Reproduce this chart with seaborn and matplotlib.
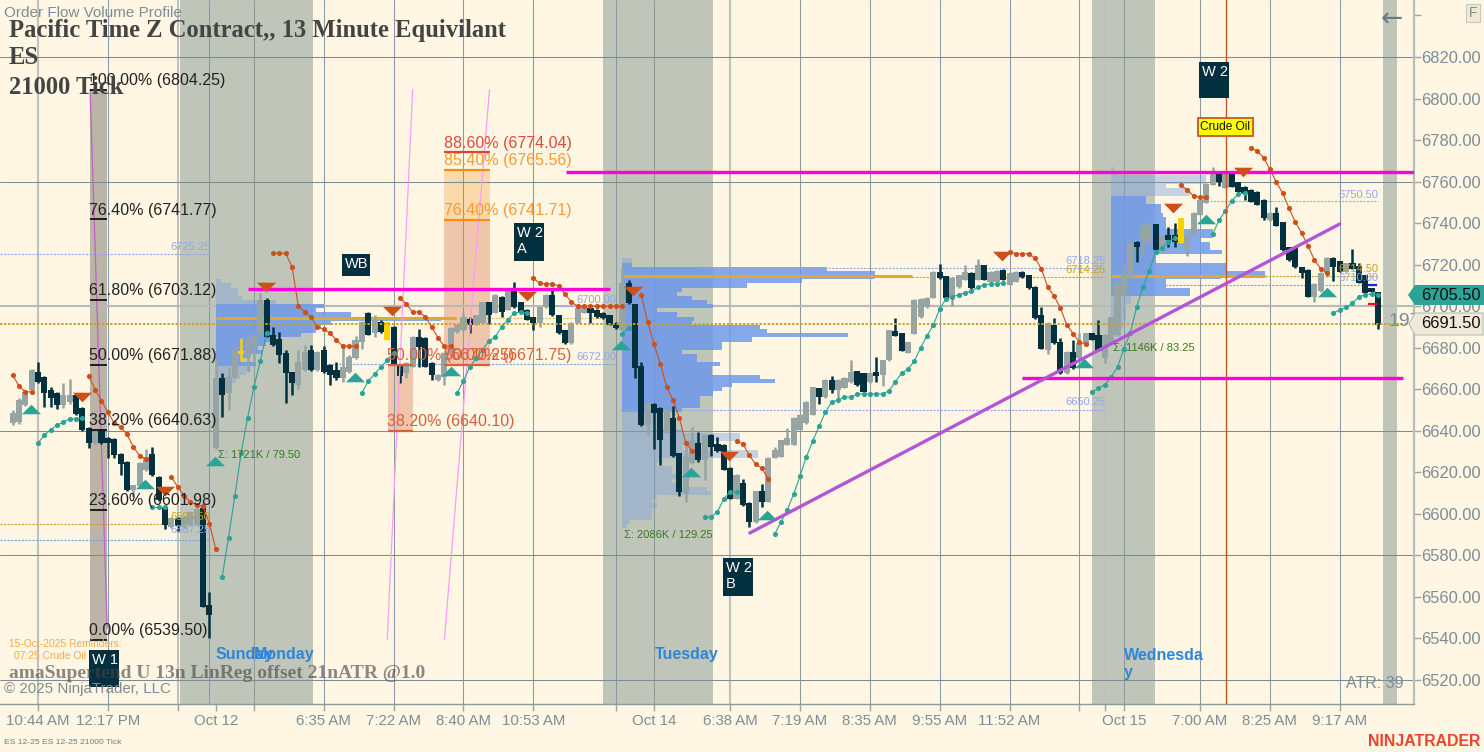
import numpy as np
import pandas as pd
import seaborn as sns
import matplotlib
matplotlib.use("Agg")
import matplotlib.pyplot as plt
from matplotlib.path import Path
from matplotlib.patches import Polygon, Rectangle

# Candles, one row per 10 bars. G up, D down, Y flagged bar
bar_kind = ("GGGGDDDDGG" "DDDGDDDDDG" "GGDDDGDGGG" "DDGDGGYGGG" "DDDDDGGDGD" "DDGGGGDGDY"
            "DDGGDDDGGG" "GGDGGDGDGD" "DDDGGDDDGG" "GDDDDDGDDD" "GDDGDDGGDG" "DDDDGDDGDG"
            "GGGGGGGDGD" "GGGDDGDGGD" "DGGGGGDDGG" "GDGDGGDGGD" "DDDGDDGDGG" "DDGGGGGDGG"
            "DGDDYGGGGG" "DGDDDDDDGD" "DDDDDGGGDD" "GDDDDD")
body_top = [
    6648.5, 6654.75, 6658.75, 6669.25, 6668.25, 6666, 6659.75, 6658.25, 6657.25, 6657.25,
    6657.25, 6651, 6641.5, 6639, 6640.5, 6636.5, 6636, 6628.75, 6625, 6613.75,
    6624.5, 6627.5, 6628.75, 6617.75, 6603.25, 6598, 6598, 6598.5, 6601, 6602.5,
    6602.75, 6556.25, 6665.5, 6665.5, 6666, 6678.75, 6678.5, 6683.75, 6686.25, 6703,
    6703, 6686.25, 6684.25, 6677.5, 6668.25, 6673.25, 6678, 6678.75, 6678, 6678.75,
    6671.75, 6669.25, 6670.75, 6675.5, 6683.75, 6692.5, 6696.75, 6693.5, 6692.5, 6692.5,
    6690, 6671.75, 6672.75, 6685.25, 6685.25, 6684.75, 6672.75, 6667, 6677.5, 6689.5,
    6691, 6694.75, 6693.75, 6695.75, 6702, 6702, 6705.5, 6704.5, 6707.75, 6708.25,
    6702, 6698.25, 6694.75, 6699.5, 6705.5, 6705.5, 6695.75, 6688.5, 6692, 6699,
    6699.5, 6699, 6698.25, 6696.75, 6695.75, 6692, 6711.25, 6711.25, 6701, 6671.25,
    6653.5, 6653, 6651, 6650, 6646.25, 6629.25, 6627.5, 6635.5, 6634.25, 6638,
    6638, 6633.75, 6633.25, 6622.25, 6618.75, 6614.75, 6605.25, 6611, 6611, 6627,
    6630.75, 6635.5, 6636.5, 6646.25, 6647.75, 6654, 6661, 6660.5, 6664.5, 6664.5,
    6664.5, 6665.5, 6668.25, 6668.75, 6667.75, 6667.75, 6668.25, 6674, 6688.5, 6688,
    6687, 6682.75, 6703, 6703.5, 6704, 6716.5, 6716.5, 6714.5, 6713.5, 6715,
    6716.5, 6716, 6719.75, 6719.75, 6716.5, 6717, 6717.5, 6716, 6716.5, 6716.5,
    6715, 6709.25, 6695.75, 6692, 6691, 6682.75, 6678, 6678, 6682.25, 6687,
    6687, 6686.25, 6686.25, 6694.75, 6711.75, 6715, 6730.5, 6731, 6737.75, 6740,
    6739.5, 6734.25, 6734.25, 6734.25, 6742.5, 6734.25, 6745, 6751.25, 6759, 6764.25,
    6764.25, 6764.25, 6763.75, 6759.75, 6757.5, 6756, 6755, 6751.25, 6745, 6745,
    6740.5, 6728.5, 6728.5, 6718.75, 6717.5, 6710.75, 6716, 6723.25, 6723.25, 6721.75,
    6720.75, 6720.75, 6719.5, 6715, 6708.75, 6706.75]
body_bot = [
    6643.75, 6644.25, 6652.5, 6659.75, 6663.5, 6658.25, 6655.75, 6652.5, 6652.5, 6653.75,
    6648, 6640.5, 6634.25, 6634.25, 6634.25, 6634.25, 6628.5, 6624, 6611.5, 6611.5,
    6613.5, 6621, 6618.75, 6606.75, 6594.75, 6593.75, 6594.25, 6593.75, 6594.75, 6594.75,
    6555.25, 6551.25, 6631.75, 6657.25, 6658.25, 6666, 6677, 6675.5, 6681.25, 6687,
    6685.25, 6681.25, 6676.5, 6667.75, 6663, 6662, 6669.25, 6669.25, 6669.25, 6668.25,
    6667, 6665.5, 6665.5, 6668.25, 6675, 6682.75, 6686.25, 6687, 6687.5, 6683.75,
    6671.75, 6666.5, 6667.75, 6670.75, 6680.5, 6670.75, 6667, 6664.5, 6666, 6677.5,
    6687.5, 6688.5, 6691, 6691, 6692, 6695.75, 6696.75, 6697.25, 6698.25, 6699.5,
    6697.25, 6693.5, 6692, 6692, 6699.5, 6695.75, 6687, 6682.25, 6682.25, 6692,
    6696.75, 6696.75, 6694.75, 6694.25, 6691, 6689.5, 6688.5, 6701.5, 6670.25, 6642.75,
    6642.75, 6648.5, 6635.5, 6639, 6627.75, 6610.5, 6610, 6624.5, 6626, 6626,
    6632.25, 6630.25, 6621.25, 6607.25, 6607.25, 6604.25, 6596, 6596, 6605.75, 6605.75,
    6627, 6627.5, 6633.25, 6633.25, 6640.5, 6643.75, 6647.75, 6656.25, 6656.25, 6659.75,
    6659.75, 6660.75, 6663.5, 6662, 6658.75, 6663.5, 6666.5, 6667, 6674, 6685.75,
    6678.5, 6677.5, 6686.75, 6694.75, 6699.5, 6704, 6713.5, 6704, 6704.5, 6709.25,
    6712.75, 6708.75, 6712.75, 6712.75, 6711.75, 6711.75, 6712.75, 6710.25, 6711.75, 6714,
    6708.75, 6694.25, 6679.5, 6679, 6682.25, 6667.75, 6667.75, 6670.25, 6675, 6682.25,
    6683.75, 6678.5, 6675, 6682.25, 6686.25, 6705.5, 6714, 6728.5, 6732, 6730.5,
    6727, 6728.5, 6732, 6731, 6730.5, 6727, 6734.25, 6744, 6749.75, 6758.5,
    6759.75, 6757, 6757.5, 6755, 6754.5, 6750.25, 6748.75, 6742.5, 6741.5, 6738.75,
    6727, 6722.25, 6718.75, 6716, 6704.5, 6704.5, 6707.25, 6716, 6718.75, 6716.5,
    6716.5, 6718, 6711.25, 6706.25, 6706.75, 6691]
bar_high = [
    6650, 6655.75, 6659.5, 6670, 6673.25, 6666.5, 6661.25, 6658.75, 6663, 6665,
    6657.75, 6651.5, 6641.75, 6640, 6641, 6637, 6636.5, 6629.25, 6625.5, 6614,
    6625, 6631.25, 6632.25, 6618, 6603.75, 6598.5, 6598.5, 6599, 6601.5, 6603,
    6603.25, 6562.5, 6675.5, 6667.75, 6670.75, 6680.75, 6684.75, 6686.25, 6686.75, 6706.5,
    6704, 6690, 6687.5, 6678.75, 6668.5, 6678.75, 6681.25, 6681.25, 6678.5, 6680.75,
    6672, 6673.25, 6680.25, 6676.5, 6685.75, 6693, 6697.25, 6695.75, 6693.5, 6692.5,
    6690.25, 6672, 6673, 6685.5, 6689, 6685, 6673, 6667.25, 6677.75, 6689.75,
    6691.25, 6696.75, 6694.75, 6696, 6702.25, 6702.25, 6705.75, 6704.75, 6708, 6711.75,
    6702.25, 6698.5, 6695, 6699.75, 6705.75, 6707.75, 6696, 6688.75, 6692.25, 6699.25,
    6699.75, 6699.25, 6698.5, 6697, 6696, 6692.25, 6719, 6712.5, 6701.25, 6673.25,
    6653.75, 6653.25, 6651.25, 6650.25, 6652, 6629.5, 6635.5, 6641.75, 6639.5, 6638.25,
    6638.25, 6637, 6633.5, 6622.5, 6619, 6616.75, 6605.5, 6611.25, 6614.5, 6627.25,
    6632.25, 6635.75, 6641.25, 6646.5, 6648, 6654.25, 6661.25, 6660.75, 6664.75, 6666.5,
    6664.75, 6665.75, 6674, 6669, 6668, 6668, 6675.5, 6674.25, 6688.75, 6694.25,
    6687.25, 6683, 6703.25, 6703.75, 6704.25, 6716.75, 6720.25, 6714.75, 6713.75, 6715.25,
    6719.75, 6716.25, 6722.75, 6720, 6716.75, 6717.25, 6717.75, 6716.25, 6716.75, 6716.75,
    6715.25, 6709.5, 6699.5, 6692.25, 6694.25, 6684.75, 6678.25, 6683.75, 6687, 6687.25,
    6687.25, 6693.5, 6686.5, 6695, 6712, 6719.75, 6730.75, 6731.25, 6740.5, 6740.25,
    6739.75, 6734.5, 6738, 6740, 6742.5, 6734.5, 6745.25, 6751.5, 6759.25, 6767,
    6764.5, 6764.5, 6764, 6760, 6757.75, 6756.25, 6755.25, 6751.5, 6745.25, 6747.75,
    6740.75, 6728.75, 6728.75, 6719, 6717.75, 6711, 6716.25, 6723.5, 6723.5, 6722,
    6721, 6727.5, 6720.75, 6715.25, 6709, 6707]
bar_low = [
    6642.75, 6643.5, 6651.75, 6659, 6663.25, 6651.5, 6651.5, 6650.5, 6651, 6653,
    6647.5, 6640, 6631.75, 6633.25, 6633.75, 6627, 6627, 6618.75, 6611.25, 6608,
    6613, 6620.5, 6618.25, 6606.25, 6592.75, 6593.25, 6591.75, 6593.25, 6594.25, 6594.25,
    6555, 6540, 6631.25, 6646.75, 6650, 6665.5, 6673.5, 6668.25, 6672.75, 6686.5,
    6685, 6681, 6672.75, 6653.5, 6657.25, 6660, 6669, 6669, 6669, 6668,
    6662, 6664.5, 6663.5, 6667.75, 6674.5, 6679.5, 6686, 6685.25, 6687.25, 6683.75,
    6671.5, 6663, 6665.5, 6670.5, 6670.75, 6670.5, 6664.5, 6664, 6662, 6677.25,
    6687.25, 6688.25, 6687, 6690.75, 6691.75, 6691.5, 6696.5, 6694.75, 6698, 6699.25,
    6697, 6693.25, 6688.5, 6690, 6699.25, 6695.5, 6686.75, 6682, 6682, 6691.75,
    6696.5, 6692, 6694.5, 6694, 6690.75, 6689.25, 6688.25, 6701.25, 6665.5, 6642.5,
    6638, 6631.25, 6623.5, 6638.75, 6627.5, 6608.5, 6605.75, 6624.25, 6625, 6616.25,
    6627.75, 6630, 6621, 6607, 6607, 6604, 6593.75, 6595.75, 6603.25, 6605.5,
    6626.75, 6627.25, 6633, 6633, 6640.25, 6643.5, 6647.5, 6653, 6656, 6658.25,
    6655.25, 6660.5, 6663.25, 6661.75, 6658.5, 6663.25, 6663.5, 6661.5, 6673.75, 6685.5,
    6678.25, 6677.25, 6686.5, 6694.5, 6699.25, 6703.75, 6713.25, 6703.75, 6700, 6709,
    6712.5, 6708.5, 6712.5, 6712.5, 6711.5, 6711.5, 6712.5, 6710, 6711.5, 6713.75,
    6708.5, 6694, 6679.25, 6677, 6682, 6667.5, 6667.5, 6670, 6674.75, 6682,
    6683.5, 6678.25, 6672.75, 6682, 6686, 6705.25, 6713.75, 6721.25, 6724.75, 6730.25,
    6726.75, 6726, 6728.5, 6728.5, 6730.5, 6724, 6734, 6743.75, 6749.5, 6758.25,
    6758, 6756.75, 6757.25, 6754.75, 6751, 6750, 6748.5, 6741.5, 6741.25, 6738.5,
    6726.75, 6722, 6718.5, 6713.5, 6704.25, 6702, 6707, 6714, 6712.25, 6716.25,
    6716.25, 6717.75, 6711, 6706, 6706.5, 6689]

# Trailing stop dots: (first bar, prices)
red_stops = [
    (0, [6667, 6661.5, 6658.75, 6658.75]),
    (12, [6666.5, 6659.75, 6654.5, 6649, 6643.75, 6641.75, 6638.5, 6632.25, 6628, 6626.5]),
    (25, [6617.75, 6613, 6608.75, 6605.75, 6604.25, 6603.75, 6595.25, 6583]),
    (41, [6725.5, 6725.5, 6725.5, 6719, 6700, 6697.25, 6694.75, 6690, 6689, 6687, 6683.75, 6680.75, 6680.75, 6680.75]),
    (61, [6704, 6701, 6697.25, 6697.25, 6694.75, 6690, 6684.75, 6680.75, 6680.75]),
    (82, [6713.5, 6711, 6710.75, 6710.75, 6709.75, 6705.75, 6702, 6700, 6700, 6700, 6700, 6700, 6700, 6700, 6700]),
    (99, [6705.5, 6692.5, 6681.75, 6672.25, 6661.25, 6654.75, 6646.25, 6634.25, 6630.25]),
    (114, [6635, 6633.75, 6628.25, 6624, 6622, 6616.75]),
    (157, [6726.25, 6725.25, 6725.25, 6725.25, 6723.25, 6718, 6709.25, 6705, 6699.25, 6691, 6686.75, 6682.75, 6681.75]),
    (184, [6758.25, 6756, 6753, 6752.5, 6752.5]),
    (195, [6776.25, 6774.75, 6771.5, 6766, 6759.75, 6754.5, 6747.25, 6740.5, 6735.25, 6729, 6722.25, 6718, 6716]),
]
green_stops = [
    (4, [6634, 6638, 6640.5, 6642.75, 6644.25, 6645.75, 6645.75, 6646.25]),
    (22, [6603.25, 6603.25, 6603.25]),
    (33, [6569.5, 6588.5, 6608.75, 6629.5, 6646.25, 6661, 6673.5, 6687]),
    (55, [6658.25, 6664, 6667.25, 6670.75, 6674, 6677.5]),
    (70, [6658.25, 6664, 6670.75, 6675, 6679, 6683.25, 6685.25, 6690, 6693.5, 6696.75, 6697.25, 6696.75]),
    (96, [6686.5, 6689.5]),
    (109, [6598.5, 6598.5, 6601, 6607.25, 6610.5, 6610.5]),
    (120, [6590.25, 6596, 6602, 6609.5, 6618.25, 6627.5, 6635, 6642.25, 6649, 6654, 6654.75, 6656.25, 6656.25,
           6657.75, 6657.75, 6657.75, 6657.75, 6657.75, 6659.25, 6663.5, 6667.75, 6669.75, 6673.5, 6680, 6685.75,
           6691, 6698.75, 6703.5, 6704.5, 6705.5, 6706.5, 6707.25, 6709.25, 6710.25, 6710.75, 6710.75, 6711.25]),
    (170, [6658.75, 6660.5, 6662, 6666, 6670.75, 6679.5, 6687, 6699.5, 6709.25, 6717, 6726.25, 6728, 6731, 6732.75]),
    (189, [6734.75, 6741.5, 6746, 6750.75, 6754, 6754.5]),
    (208, [6696.75, 6698.25, 6699.5, 6701.5, 6704.5, 6705.5, 6706, 6705.5]),
]
sell_slot = [10.9, 24, 39.9, 59.7, 81, 97.7, 112.8, 155.8, 182.7, 193.8]
sell_price = [6656.3, 6611, 6709.25, 6697.7, 6705, 6707.3, 6627.9, 6724.2, 6747.3, 6764.6]
buy_slot = [2.9, 20.85, 31.9, 53.9, 69, 95.8, 106.8, 118.8, 168.7, 188, 207]
buy_price = [6650.5, 6614.4, 6625.5, 6666, 6668.8, 6681.3, 6620.2, 6599.5, 6672.7, 6742, 6706.9]

# Volume profiles, widths in screen pixels
prof1_levels = list(range(6712, 6658, -2))
prof1_vol = [5, 15, 22, 22, 26, 60, 108, 100, 135, 225, 115, 105, 100, 85, 55, 50, 42, 46, 32, 25, 40, 35, 30, 24, 20, 12, 8]
prof2_levels = list(range(6722, 6592, -2))
prof2_vol = [10, 10, 205, 253, 253, 180, 125, 60, 55, 70, 85, 91, 35, 55, 72, 70, 138, 145, 226, 130, 100, 100, 60,
             75, 75, 98, 90, 90, 138, 153, 110, 100, 91, 78, 78, 78, 60, 40, 40, 40, 40, 60, 118, 118, 90, 60, 136,
             136, 40, 35, 50, 50, 55, 50, 55, 85, 89, 35, 30, 35, 30, 30, 30, 8, 5]
prof3_levels = list(range(6766, 6684, -2))
prof3_vol = [3, 5, 95, 95, 55, 79, 79, 35, 35, 50, 50, 52, 55, 55, 55, 102, 102, 89, 99, 99, 111, 45, 45, 115, 115,
             154, 110, 55, 55, 79, 79, 20, 20, 15, 15, 15, 15, 12, 12, 10, 10]
prof_start = [32, 96, 173]
value_high = [6701.5, 6720, 6752]
value_low = [6672, 6650, 6705]
poc_price = [6694.3, 6714.7, 6714.75]
poc_from = [32, 96, 173]
poc_to = [69.8, 141.6, 197.2]

# Shaded sessions and grid
session_from = [26.4, 93, 170, 215.8]
session_to = [47.3, 110.3, 179.9, 218]
h_grid = [6820, 6760, 6640, 6580, 6520]
v_dark = [15, 31, 38, 49, 60, 71, 82, 95, 101, 124, 135, 146, 157, 168, 175, 187, 198, 209]
v_light = [4, 26, 113, 172]
tick_slots = [4, 15, 26, 32, 38, 49, 60, 71, 82, 95, 101, 113, 124, 135, 146, 157, 168, 172, 175, 187, 198, 209]
tick_text = ["10:44 AM", "12:17 PM", "", "Oct 12", "", "6:35 AM", "7:22 AM", "8:40 AM", "10:53 AM", "", "Oct 14",
             "6:38 AM", "7:19 AM", "8:35 AM", "9:55 AM", "11:52 AM", "", "", "Oct 15", "7:00 AM", "8:25 AM", "9:17 AM"]

# Fibonacci sets
fib_black_pct = ["100.00%", "76.40%", "61.80%", "50.00%", "38.20%", "23.60%", "0.00%"]
fib_black_val = [6804.25, 6741.77, 6703.12, 6671.88, 6640.63, 6601.98, 6539.50]

# Key levels: price, first slot, last slot, colour
thick_levels = [(6708.4, 37, 94), (6764.6, 87.1, 220.7), (6665.3, 159, 219)]
dash_levels = [
    (6725.25, -2, 31.1, "#8fa8e8"), (6595, -2, 24.8, "#c9a227"), (6587.25, -2, 31.1, "#7f9ee6"),
    (6700, 85, 95.2, "#8fa8e8"), (6672, 49.7, 95.2, "#7f9ee6"), (6694.25, 69.8, 95.2, "#e3bf6a"),
    (6718.25, 108.3, 172, "#8fa8e8"), (6714.25, 141.6, 172, "#c9a227"), (6650.25, 95.7, 172, "#8fa8e8"),
    (6750.5, 188.6, 215, "#8fa8e8"), (6710, 181.5, 215, "#7f9ee6"), (6714.5, 197.2, 215, "#c9a227"),
]
last_price = 6691.5
trend_slot = [116.1, 209]
trend_price = [6590.8, 6739.6]
pink_lines = [([59, 63], [6539.5, 6804.25]), ([68, 75.1], [6539.5, 6804.25])]
fib_pink = ([12.2, 14.9], [6804.25, 6545])

BG = "#fff6e3"
DARK = "#03303f"
GRAY_TXT = "#7d8d96"
FW, FH = 1484, 752
BAR_PX = 6.35

sns.set_theme(style="white", rc={"axes.facecolor": BG, "figure.facecolor": BG})
plt.rcParams["font.family"] = ["Liberation Sans", "DejaVu Sans"]

fig = plt.figure(figsize=(FW / 100, FH / 100), dpi=100)
ax = fig.add_axes([0, (FH - 704) / FH, 1414 / FW, 704 / FH])
ax.set_xlim(-1.984, 220.69)
ax.set_ylim(6508.45, 6847.45)


# text placed by screen pixel, for the overlay captions
def px_text(x, y, s, **kw):
    kw.setdefault("va", "center")
    kw.setdefault("zorder", 8)
    return fig.text(x / FW, 1 - y / FH, s, **kw)


def px_box(x0, y0, x1, y1, face, edge="none", lw=0, z=7):
    fig.add_artist(Rectangle((x0 / FW, 1 - y1 / FH), (x1 - x0) / FW, (y1 - y0) / FH, transform=fig.transFigure,
                             facecolor=face, edgecolor=edge, linewidth=lw, zorder=z))


def px_poly(points, face, edge="none", lw=0, z=7):
    fig.add_artist(Polygon([(x / FW, 1 - y / FH) for x, y in points], closed=True, transform=fig.transFigure,
                           facecolor=face, edgecolor=edge, linewidth=lw, zorder=z))


# Background bands and grid
for a, b in zip(session_from, session_to):
    ax.axvspan(a, b, color="#bfc5b9", lw=0, zorder=0.5)
ax.fill_between([12.2, 14.9], 6539.5, 6804.25, color="#bcb4a6", lw=0, zorder=0.6)
ax.fill_between([68, 75.2], 6741.71, 6765.56, color="#fbd9a8", lw=0, zorder=0.6)
ax.fill_between([68, 75.2], 6671.75, 6741.71, color="#efc6ab", lw=0, zorder=0.6)
ax.fill_between([59.1, 63], 6640.10, 6671.75, color="#efc6ab", lw=0, zorder=0.6)

for s in v_dark:
    ax.axvline(s, color="#8b9aa0", lw=0.75, zorder=1)
for s in v_light:
    ax.axvline(s, color="#bcc3bd", lw=1.5, zorder=1)
for p in h_grid:
    ax.axhline(p, color="#7d8d95", lw=0.75, zorder=1)
ax.axhline(6700, color="#b5bcb6", lw=1.5, zorder=1)

# Volume profiles
for start, levels, vols, hi, lo in zip(prof_start, [prof1_levels, prof2_levels, prof3_levels],
                                       [prof1_vol, prof2_vol, prof3_vol], value_high, value_low):
    prof = pd.DataFrame({"price": levels, "vol": vols})
    inside = (prof["price"] <= hi) & (prof["price"] >= lo)
    ax.barh(prof["price"][inside], prof["vol"][inside] / BAR_PX, left=start, height=2.0,
            color="#6a97ec", alpha=0.82, lw=0, zorder=1.5)
    ax.barh(prof["price"][~inside], prof["vol"][~inside] / BAR_PX, left=start, height=2.0,
            color="#7a9fe0", alpha=0.42, lw=0, zorder=1.5)
for p, a, b in zip(poc_price, poc_from, poc_to):
    ax.plot([a, b], [p, p], color="#e0a82e", lw=2.2, solid_capstyle="butt", zorder=1.8)

# Dashed key levels
for p, a, b, c in dash_levels:
    ax.plot([a, b], [p, p], color=c, lw=0.8, ls=(0, (2, 1.2)), zorder=1.7)
ax.axhline(last_price, color="#c9a227", lw=1.4, ls=(0, (1.2, 0.9)), zorder=4)

# Thin pink lines
for xs, ys in pink_lines:
    sns.lineplot(x=xs, y=ys, ax=ax, color="#ff9cf2", lw=0.9, errorbar=None, legend=False, zorder=5)
sns.lineplot(x=fib_pink[0], y=fib_pink[1], ax=ax, color="#c060c8", lw=0.9, errorbar=None, legend=False, zorder=2)

# Candles
slots = np.arange(len(bar_kind))
bar_colors = [{"G": "#97a4a4", "D": DARK, "Y": "#ffd000"}[k] for k in bar_kind]
ax.vlines(slots, bar_low, bar_high, colors=bar_colors, lw=1.8, zorder=3)
ax.bar(slots, np.array(body_top) - np.array(body_bot), bottom=body_bot, width=0.96, color=bar_colors, lw=0, zorder=3)

# Stop dots
for start, prices in red_stops:
    sns.lineplot(x=list(range(start, start + len(prices))), y=prices, ax=ax, color="#cf4f1b", lw=0.8, marker="o",
                 markersize=3.7, markeredgewidth=0, errorbar=None, legend=False, zorder=5)
for start, prices in green_stops:
    sns.lineplot(x=list(range(start, start + len(prices))), y=prices, ax=ax, color="#2ba397", lw=0.8, marker="o",
                 markersize=3.7, markeredgewidth=0, errorbar=None, legend=False, zorder=5)

# Signal triangles
down_tri = Path([(-1, 0.5), (1, 0.5), (0, -0.5), (-1, 0.5)])
up_tri = Path([(-1, -0.5), (1, -0.5), (0, 0.5), (-1, -0.5)])
sns.scatterplot(x=sell_slot, y=sell_price, ax=ax, marker=down_tri, s=190, color="#cf4f1b", linewidth=0, legend=False, zorder=6)
sns.scatterplot(x=buy_slot, y=buy_price, ax=ax, marker=up_tri, s=190, color="#2ba397", linewidth=0, legend=False, zorder=6)

# Thick manual lines
for p, a, b in thick_levels:
    ax.plot([a, b], [p, p], color="#ff00dc", lw=2.4, solid_capstyle="butt", zorder=5.5)
sns.lineplot(x=trend_slot, y=trend_price, ax=ax, color="#b455d8", lw=2.4, errorbar=None, legend=False, zorder=5.5)
ax.axvline(191.1, color="#c8552a", lw=1, zorder=5)
ax.plot([213.4, 214.9], [6710, 6710], color="#1030e0", lw=1.6, solid_capstyle="butt", zorder=6)
ax.plot([213.4, 214.9], [6701, 6701], color="#f01020", lw=1.6, solid_capstyle="butt", zorder=6)

# Fibonacci levels and labels
for pct, val in zip(fib_black_pct, fib_black_val):
    ax.plot([12.2, 14.9], [val, val], color="#111111", lw=1.3, solid_capstyle="butt", zorder=6)
    ax.text(12.1, val + 0.8, f"{pct} ({val:.2f})", color="#222222", fontsize=11.5, va="bottom", ha="left", zorder=7)
red_fib = "#d9603a"
orange_fib = "#ff9a2e"
for val, a, b, c in [(6774.04, 68, 75.2, "#dd4433"), (6765.56, 68, 75.2, "#ff8c10"), (6741.71, 68, 75.2, "#ff8c10"),
                     (6671.75, 68, 75.2, red_fib), (6671.75, 59.1, 63, red_fib), (6640.10, 59.1, 63, red_fib)]:
    ax.plot([a, b], [val, val], color=c, lw=1.6, solid_capstyle="butt", zorder=6)
ax.text(68, 6774.84, "88.60% (6774.04)", color="#e04a3a", fontsize=11.5, va="bottom", zorder=7)
ax.text(68, 6766.36, "85.40% (6765.56)", color=orange_fib, fontsize=11.5, va="bottom", zorder=7)
ax.text(68, 6742.5, "76.40% (6741.71)", color=orange_fib, fontsize=11.5, va="bottom", zorder=7)
ax.text(59, 6672.55, "50.00% (6670.25)", color=red_fib, fontsize=11.5, va="bottom", zorder=7)
ax.text(68, 6672.55, "50.00% (6671.75)", color=red_fib, fontsize=11.5, va="bottom", zorder=7)
ax.text(59, 6640.9, "38.20% (6640.10)", color=red_fib, fontsize=11.5, va="bottom", zorder=7)

# Axes, ticks
ax.yaxis.tick_right()
ax.set_yticks(np.arange(6520, 6841, 20))
ax.set_yticklabels([f"{p:.2f}" for p in np.arange(6520, 6821, 20)] + [""], color=GRAY_TXT, fontsize=11.9)
ax.set_xticks(tick_slots)
ax.set_xticklabels(tick_text, color=GRAY_TXT, fontsize=10.8)
ax.tick_params(axis="y", length=5, width=1, color="#9aa7a7", pad=0, right=True, left=False)
ax.tick_params(axis="x", length=5, width=1, color="#9aa7a7", pad=2, bottom=True)
for side in ["top", "left"]:
    ax.spines[side].set_visible(False)
ax.spines["right"].set_color("#b7bfba")
ax.spines["right"].set_linewidth(1.6)
ax.spines["bottom"].set_color("#8b9a9a")
ax.spines["bottom"].set_linewidth(1)

# Overlay captions
px_text(4, 13, "Order Flow Volume Profile", color=GRAY_TXT, fontsize=11)
serif = dict(family=["Liberation Serif", "DejaVu Serif"], fontweight="bold", color="#444444")
px_text(9, 31, "Pacific Time Z Contract,, 13 Minute Equivilant", fontsize=17.7, **serif)
px_text(9, 58, "ES", fontsize=17.7, **serif)
px_text(9, 87, "21000 Tick", fontsize=17.7, **serif)
px_text(9, 673, "amaSupertend U 13n LinReg offset 21nATR @1.0", fontsize=14, alpha=0.62, family=serif["family"],
        fontweight="bold", color="#444444")
px_text(4, 689, "\u00a9 2025 NinjaTrader, LLC", color="#7d8d96", fontsize=10.9)
px_text(9, 644, "15-Oct-2025 Reminders:", color="#ffa940", fontsize=7.4)
px_text(14, 656, "07:25 Crude Oil", color="#ffa940", fontsize=7.4)

day_font = dict(color="#2f86d8", fontsize=11.5, fontweight="bold")
px_text(216, 655, "Sunday", **day_font)
px_text(254, 655, "Monday", **day_font)
px_text(655, 655, "Tuesday", **day_font)
px_text(1124, 655, "Wednesda", **day_font)
px_text(1124, 673, "y", **day_font)

for x, y, s in [(218, 455, "\u03a3: 1721K / 79.50"), (624, 535, "\u03a3: 2086K / 129.25"), (1113, 348, "\u03a3: 1146K / 83.25")]:
    px_text(x, y, s, color="#3a7a20", fontsize=8)
for x, y, s, c in [(170, 247, "6725.25", "#8fa8e8"), (170, 517, "6595.50", "#c9a227"), (170, 530, "6587.25", "#8fa8e8"),
                   (576, 300, "6700.00", "#8fa8e8"), (576, 357, "6672.00", "#8fa8e8"),
                   (1065, 261, "6718.25", "#8fa8e8"), (1065, 270, "6714.25", "#c9a227"),
                   (1065, 402, "6650.25", "#8fa8e8"), (1338, 195, "6750.50", "#8fa8e8"),
                   (1338, 269, "6714.50", "#c9a227"), (1338, 278, "6710.00", "#8fa8e8")]:
    px_text(x, y, s, color=c, fontsize=8)

# Note boxes
for x0, y0, x1, y1, s in [(89, 650, 119, 687, "W 1"), (342, 254, 370, 276, "WB"), (514, 223, 544, 261, "W 2\nA"),
                          (723, 558, 753, 596, "W 2\nB"), (1199, 62, 1229, 98, "W 2")]:
    px_box(x0, y0, x1, y1, DARK)
    px_text(x0 + 3, y0 + 3, s, color="white", fontsize=10.5, va="top", linespacing=1.15)
px_box(1198, 118, 1253, 136, "#ffff00", "#c8552a", 1.3)
px_text(1225.5, 127, "Crude Oil", color="#111111", fontsize=8.6, ha="center")

# Right edge tags
px_text(1388, 322, "197", color="#7d8d96", fontsize=14, zorder=6)
px_poly([(1408, 295), (1415, 285), (1484, 285), (1484, 305), (1415, 305)], "#2ba397")
px_text(1421, 295, "6705.50", color="#111111", fontsize=11.9)
px_poly([(1409, 324), (1415, 313), (1483, 313), (1483, 335), (1415, 335)], "#f1e9d8", "#b7bfba", 0.8)
px_text(1421, 324, "6691.50", color="#111111", fontsize=11.9)

px_text(1346, 684, "ATR: 39", color="#7d8d96", fontsize=11.5)
px_text(1381, 20, "\u2190", color="#5f7c88", fontsize=19, family=["DejaVu Sans"])
px_box(1466, 4, 1480, 22, "#f1e9d8", "#c5cabf", 0.8)
px_text(1473, 13, "F", color=GRAY_TXT, fontsize=10, ha="center")
px_text(4, 743, "ES 12-25 ES 12-25 21000 Tick", color="#6d7b83", fontsize=6.1)
px_text(1368, 741, "NINJATRADER", color="#e8452c", fontsize=11.4, fontweight="bold")

fig.savefig("out.png", dpi=100, facecolor=BG)
